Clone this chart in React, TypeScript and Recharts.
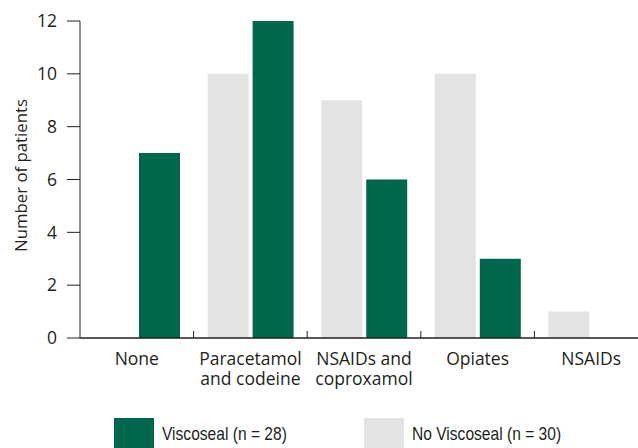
import React from "react";
import { BarChart, Bar, XAxis, YAxis, Label } from "recharts";

const categories = ["None", "Paracetamol\nand codeine", "NSAIDs and\ncoproxamol", "Opiates", "NSAIDs"];
const noViscoseal = [0, 10, 9, 10, 1];
const viscoseal = [7, 12, 6, 3, 0];
const yTicks = [0, 2, 4, 6, 8, 10, 12];
const seriesNames = { viscoseal: "Viscoseal (n = 28)", noViscoseal: "No Viscoseal (n = 30)" };
const yTitle = "Number of patients";

const GREEN = "#00674F";
const GREY = "#E3E3E3";
const INK = "#231F20";
const FONT = "'Open Sans', 'Noto Sans', sans-serif";

const data = categories.map((c, i) => ({ cat: c, noViscoseal: noViscoseal[i], viscoseal: viscoseal[i] }));

const CHART_W = 648;
const CHART_H = 448;
const MARGIN = { top: 21, right: 0, left: 0, bottom: 50 };
const Y_W = 80;

const CatTick = (props: any) => {
  const { x, y, payload, index } = props;
  const plotW = CHART_W - MARGIN.left - MARGIN.right - Y_W;
  const half = payload && payload.offset ? payload.offset : plotW / categories.length / 2;
  const lines = String(payload.value).split("\n");
  return (
    <g>
      {index > 0 && <line x1={x - half} x2={x - half} y1={y} y2={y - 7} stroke={INK} strokeWidth={1} />}
      {lines.map((l, i) => (
        <text key={i} x={x} y={y + 27 + i * 20} textAnchor="middle" fill={INK} fontFamily={FONT} fontSize={17.5}>
          {l}
        </text>
      ))}
    </g>
  );
};

const YTitle = (props: any) => {
  const vb = props.viewBox || { x: 0, y: 21, width: 80, height: 317 };
  const cx = vb.x + 20;
  const cy = vb.y + vb.height / 2 - 4;
  return (
    <text
      x={cx}
      y={cy}
      transform={`rotate(-90, ${cx}, ${cy})`}
      textAnchor="middle"
      dominantBaseline="central"
      fill={INK}
      fontFamily={FONT}
      fontSize={16.8}
    >
      {yTitle}
    </text>
  );
};

const LegendItem = ({ color, label, left }: { color: string; label: string; left: number }) => (
  <div style={{ position: "absolute", left, top: 418, display: "flex", alignItems: "flex-start" }}>
    <div style={{ width: 40, height: 30, background: color }} />
    <div
      style={{
        marginLeft: 8,
        marginTop: 5,
        fontFamily: "'Liberation Sans', Arial, sans-serif",
        fontSize: 19,
        color: INK,
        lineHeight: "22px",
        whiteSpace: "nowrap",
        transform: "scaleX(0.82)",
        transformOrigin: "left center",
      }}
    >
      {label}
    </div>
  </div>
);

export default function App() {
  return (
    <div style={{ position: "fixed", left: 0, top: 0, width: 638, height: 448, overflow: "hidden", background: "#fff" }}>
      <BarChart width={CHART_W} height={CHART_H} data={data} margin={MARGIN} barSize={41} barGap={4}>
        <YAxis
          width={Y_W}
          domain={[0, 12]}
          ticks={yTicks}
          interval={0}
          tickSize={13}
          tickMargin={10}
          axisLine={{ stroke: INK, strokeWidth: 1 }}
          tickLine={{ stroke: INK, strokeWidth: 1 }}
          tick={{ fill: INK, fontFamily: FONT, fontSize: 17.5 }}
        >
          <Label content={<YTitle />} />
        </YAxis>
        <XAxis
          dataKey="cat"
          interval={0}
          height={60}
          tickSize={0}
          tickMargin={0}
          tickLine={false}
          axisLine={{ stroke: INK, strokeWidth: 1.5 }}
          tick={<CatTick />}
        />
        <Bar dataKey="noViscoseal" name={seriesNames.noViscoseal} fill={GREY} isAnimationActive={false} />
        <Bar dataKey="viscoseal" name={seriesNames.viscoseal} fill={GREEN} isAnimationActive={false} />
      </BarChart>
      <LegendItem color={GREEN} label={seriesNames.viscoseal} left={114} />
      <LegendItem color={GREY} label={seriesNames.noViscoseal} left={364} />
    </div>
  );
}
